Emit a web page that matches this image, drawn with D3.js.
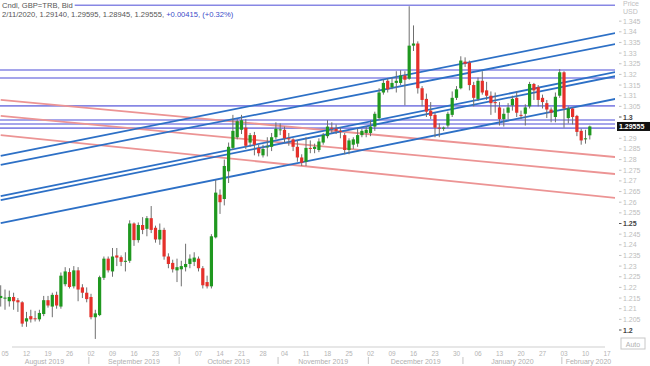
<!DOCTYPE html>
<html>
<head>
<meta charset="utf-8">
<script src="https://cdn.jsdelivr.net/npm/d3@7"></script>
<style>
  body { margin: 0; background: #fff; }
  svg { display: block; font-family: "Liberation Sans", Arial, sans-serif; }
</style>
</head>
<body>
<div id="chart"></div>
<script>
// daily bars, GBP=TRB bid
var dates = [
  "2019-08-01","2019-08-02",
  "2019-08-05","2019-08-06","2019-08-07","2019-08-08","2019-08-09",
  "2019-08-12","2019-08-13","2019-08-14","2019-08-15","2019-08-16",
  "2019-08-19","2019-08-20","2019-08-21","2019-08-22","2019-08-23",
  "2019-08-26","2019-08-27","2019-08-28","2019-08-29","2019-08-30",
  "2019-09-02","2019-09-03","2019-09-04","2019-09-05","2019-09-06",
  "2019-09-09","2019-09-10","2019-09-11","2019-09-12","2019-09-13",
  "2019-09-16","2019-09-17","2019-09-18","2019-09-19","2019-09-20",
  "2019-09-23","2019-09-24","2019-09-25","2019-09-26","2019-09-27",
  "2019-09-30","2019-10-01","2019-10-02","2019-10-03","2019-10-04",
  "2019-10-07","2019-10-08","2019-10-09","2019-10-10","2019-10-11",
  "2019-10-14","2019-10-15","2019-10-16","2019-10-17","2019-10-18",
  "2019-10-21","2019-10-22","2019-10-23","2019-10-24","2019-10-25",
  "2019-10-28","2019-10-29","2019-10-30","2019-10-31","2019-11-01",
  "2019-11-04","2019-11-05","2019-11-06","2019-11-07","2019-11-08",
  "2019-11-11","2019-11-12","2019-11-13","2019-11-14","2019-11-15",
  "2019-11-18","2019-11-19","2019-11-20","2019-11-21","2019-11-22",
  "2019-11-25","2019-11-26","2019-11-27","2019-11-28","2019-11-29",
  "2019-12-02","2019-12-03","2019-12-04","2019-12-05","2019-12-06",
  "2019-12-09","2019-12-10","2019-12-11","2019-12-12","2019-12-13",
  "2019-12-16","2019-12-17","2019-12-18","2019-12-19","2019-12-20",
  "2019-12-23","2019-12-24","2019-12-25","2019-12-26","2019-12-27",
  "2019-12-30","2019-12-31","2020-01-01","2020-01-02","2020-01-03",
  "2020-01-06","2020-01-07","2020-01-08","2020-01-09","2020-01-10",
  "2020-01-13","2020-01-14","2020-01-15","2020-01-16","2020-01-17",
  "2020-01-20","2020-01-21","2020-01-22","2020-01-23","2020-01-24",
  "2020-01-27","2020-01-28","2020-01-29","2020-01-30","2020-01-31",
  "2020-02-03","2020-02-04","2020-02-05","2020-02-06","2020-02-07",
  "2020-02-10","2020-02-11"
];
var open = [
  1.2130,1.2150,
  1.2150,1.2135,1.2155,1.2140,1.2130,
  1.2040,1.2065,1.2055,1.2050,1.2075,
  1.2140,1.2110,1.2165,1.2110,1.2215,
  1.2272,1.2205,1.2280,1.2200,1.2175,
  1.2155,1.2060,1.2070,1.2245,1.2335,
  1.2275,1.2350,1.2342,1.2320,1.2325,
  1.2500,1.2422,1.2493,1.2475,1.2525,
  1.2480,1.2425,1.2470,1.2345,1.2315,
  1.2280,1.2285,1.2295,1.2310,1.2320,
  1.2335,1.2290,1.2225,1.2205,1.2435,
  1.2635,1.2615,1.2745,1.2855,1.2905,
  1.2940,1.2950,1.2880,1.2915,1.2855,
  1.2820,1.2860,1.2860,1.2905,1.2940,
  1.2940,1.2900,1.2895,1.2860,1.2810,
  1.2790,1.2855,1.2850,1.2845,1.2880,
  1.2910,1.2950,1.2945,1.2935,1.2915,
  1.2845,1.2870,1.2875,1.2915,1.2925,
  1.2925,1.2955,1.2995,1.3115,1.3170,
  1.3140,1.3160,1.3160,1.3195,1.3180,
  1.3335,1.3345,1.3135,1.3085,1.3030,
  1.3010,1.2950,1.2945,1.2960,1.3010,
  1.3090,1.3135,1.3260,1.3255,1.3150,
  1.3085,1.3170,1.3125,1.3100,1.3070,
  1.3045,1.2990,1.3020,1.3055,1.3090,
  1.3010,1.3015,1.3050,1.3155,1.3140,
  1.3090,1.3065,1.3035,1.3000,1.3100,
  1.3210,1.2995,1.3040,1.3005,1.2935,
  1.2895,1.29140
];
var high = [
  1.2190,1.2210,
  1.2190,1.2185,1.2175,1.2150,1.2135,
  1.2085,1.2095,1.2090,1.2095,1.2160,
  1.2160,1.2175,1.2180,1.2270,1.2295,
  1.2290,1.2300,1.2295,1.2215,1.2200,
  1.2170,1.2095,1.2255,1.2345,1.2345,
  1.2385,1.2385,1.2350,1.2365,1.2515,
  1.2505,1.2505,1.2530,1.2535,1.2582,
  1.2490,1.2500,1.2480,1.2360,1.2330,
  1.2335,1.2325,1.2405,1.2355,1.2365,
  1.2345,1.2300,1.2255,1.2450,1.2705,
  1.2660,1.2800,1.2880,1.3010,1.2990,
  1.3010,1.2990,1.2925,1.2930,1.2870,
  1.2870,1.2905,1.2925,1.2975,1.2970,
  1.2955,1.2925,1.2900,1.2890,1.2825,
  1.2905,1.2890,1.2875,1.2900,1.2925,
  1.2985,1.2975,1.2965,1.2950,1.2925,
  1.2900,1.2905,1.2945,1.2945,1.2955,
  1.2985,1.3025,1.3135,1.3175,1.3180,
  1.3185,1.3215,1.3220,1.3215,1.3520,
  1.3430,1.3355,1.3145,1.3110,1.3070,
  1.3020,1.2970,1.2955,1.3025,1.3120,
  1.3145,1.3285,1.3280,1.3265,1.3165,
  1.3185,1.3215,1.3165,1.3120,1.3115,
  1.3070,1.3040,1.3065,1.3100,1.3120,
  1.3030,1.3060,1.3165,1.3160,1.3150,
  1.3105,1.3080,1.3045,1.3115,1.3225,
  1.3215,1.3050,1.3045,1.3010,1.2945,
  1.2940,1.29595
];
var low = [
  1.2110,1.2110,
  1.2095,1.2110,1.2095,1.2085,1.2015,
  1.2015,1.2035,1.2040,1.2040,1.2065,
  1.2105,1.2060,1.2100,1.2100,1.2205,
  1.2195,1.2195,1.2135,1.2150,1.2130,
  1.2050,1.1958,1.2065,1.2235,1.2270,
  1.2250,1.2300,1.2300,1.2275,1.2315,
  1.2395,1.2410,1.2450,1.2440,1.2455,
  1.2410,1.2400,1.2330,1.2290,1.2270,
  1.2225,1.2205,1.2275,1.2290,1.2300,
  1.2275,1.2195,1.2195,1.2195,1.2430,
  1.2545,1.2585,1.2690,1.2845,1.2895,
  1.2920,1.2850,1.2860,1.2820,1.2815,
  1.2810,1.2815,1.2840,1.2895,1.2915,
  1.2880,1.2865,1.2840,1.2790,1.2770,
  1.2770,1.2830,1.2830,1.2835,1.2870,
  1.2900,1.2925,1.2920,1.2900,1.2825,
  1.2825,1.2850,1.2860,1.2905,1.2905,
  1.2910,1.2935,1.2985,1.3105,1.3115,
  1.3130,1.3115,1.3150,1.3055,1.3175,
  1.3310,1.3110,1.3050,1.3000,1.2990,
  1.2905,1.2905,1.2935,1.2950,1.3000,
  1.3080,1.3130,1.3235,1.3125,1.3050,
  1.3075,1.3105,1.3080,1.3010,1.3020,
  1.2960,1.2955,1.2990,1.3030,1.3000,
  1.2990,1.2960,1.3040,1.3080,1.3050,
  1.3040,1.2995,1.2975,1.2975,1.3090,
  1.2950,1.2970,1.2965,1.2910,1.2870,
  1.2875,1.28945
];
var close = [
  1.2150,1.2160,
  1.2152,1.2155,1.2135,1.2130,1.2030,
  1.2055,1.2050,1.2052,1.2080,1.2140,
  1.2115,1.2165,1.2115,1.2255,1.2275,
  1.2202,1.2280,1.2190,1.2175,1.2145,
  1.2060,1.2078,1.2248,1.2335,1.2280,
  1.2345,1.2340,1.2320,1.2325,1.2500,
  1.2422,1.2493,1.2470,1.2525,1.2470,
  1.2425,1.2470,1.2345,1.2310,1.2285,
  1.2295,1.2300,1.2310,1.2335,1.2340,
  1.2290,1.2210,1.2205,1.2440,1.2645,
  1.2600,1.2770,1.2860,1.2935,1.2980,
  1.2985,1.2865,1.2915,1.2870,1.2830,
  1.2850,1.2862,1.2905,1.2945,1.2942,
  1.2900,1.2895,1.2860,1.2810,1.2785,
  1.2855,1.2850,1.2860,1.2885,1.2915,
  1.2955,1.2945,1.2935,1.2930,1.2845,
  1.2890,1.2895,1.2915,1.2935,1.2940,
  1.2955,1.3015,1.3115,1.3160,1.3130,
  1.3160,1.3170,1.3195,1.3175,1.3335,
  1.3345,1.3135,1.3080,1.3025,1.3005,
  1.2950,1.2945,1.2950,1.3015,1.3090,
  1.3130,1.3265,1.3250,1.3150,1.3090,
  1.3170,1.3115,1.3100,1.3065,1.3065,
  1.2990,1.3015,1.3045,1.3085,1.3020,
  1.3005,1.3045,1.3155,1.3125,1.3080,
  1.3070,1.3035,1.3020,1.3095,1.3210,
  1.3040,1.3040,1.3000,1.2930,1.2890,
  1.2900,1.29555
];

// drawing tools on the chart (price at left end / right end)
var levelLines = [1.3525, 1.3221, 1.3183, 1.3052, 1.2986, 1.2967, 1.2948];
var upTrends = [[1.2817, 1.3394], [1.2775, 1.3343], [1.2629, 1.3211], [1.2610, 1.3192], [1.2502, 1.3085]];
var downTrends = [[1.3080, 1.2812], [1.3005, 1.2732], [1.2915, 1.2620]];
var trendFrom = "2019-08-02", trendTo = "2020-02-19";

var priceTicks = ["1.2","1.205","1.21","1.215","1.22","1.225","1.23","1.235","1.24","1.245",
  "1.25","1.255","1.26","1.265","1.27","1.275","1.28","1.285","1.29",
  "1.3","1.305","1.31","1.315","1.32","1.325","1.33","1.335","1.34","1.345"];
var boldTicks = ["1.2","1.25","1.3"];
var monthNames = ["August 2019","September 2019","October 2019","November 2019",
  "December 2019","January 2020","February 2020"];
var axisStart = "2019-08-01", axisEnd = "2020-02-19";

var width = 650, height = 366;
var plotRight = 615, plotBottom = 346;

var parse = d3.timeParse("%Y-%m-%d");
var fmt = d3.timeFormat("%Y-%m-%d");

// weekday slots along the time axis
var axisDays = d3.timeDay.range(parse(axisStart), d3.timeDay.offset(parse(axisEnd), 1))
  .filter(function(d) { return d.getDay() !== 0 && d.getDay() !== 6; });
var axisKeys = axisDays.map(fmt);

var x = d3.scaleBand()
  .domain(axisKeys)
  .range([-5.75, 617.75])
  .paddingInner(0.25)
  .paddingOuter(0.125);
var cx = function(k) { return x(k) + x.bandwidth() / 2; };

var y = d3.scaleLinear().domain([1.2, 1.35]).range([330, 10.5]);

var svg = d3.select("#chart").append("svg")
  .attr("width", width)
  .attr("height", height);

svg.append("defs").append("clipPath").attr("id", "plot")
  .append("rect").attr("x", 0).attr("y", 0).attr("width", plotRight).attr("height", plotBottom);

var plot = svg.append("g").attr("clip-path", "url(#plot)");

// horizontal levels
plot.selectAll(".level").data(levelLines).enter().append("line")
  .attr("class", "level")
  .attr("x1", 0).attr("x2", plotRight)
  .attr("y1", function(d) { return y(d); })
  .attr("y2", function(d) { return y(d); })
  .attr("stroke", "#8787e4")
  .attr("stroke-width", 1.6);

// falling channel
plot.selectAll(".down").data(downTrends).enter().append("line")
  .attr("class", "down")
  .attr("x1", cx(trendFrom)).attr("x2", cx(trendTo))
  .attr("y1", function(d) { return y(d[0]); })
  .attr("y2", function(d) { return y(d[1]); })
  .attr("stroke", "#ec9494")
  .attr("stroke-width", 1.8);

// rising channel
plot.selectAll(".up").data(upTrends).enter().append("line")
  .attr("class", "up")
  .attr("x1", cx(trendFrom)).attr("x2", cx(trendTo))
  .attr("y1", function(d) { return y(d[0]); })
  .attr("y2", function(d) { return y(d[1]); })
  .attr("stroke", "#2d70c6")
  .attr("stroke-width", 1.8);

// candles
var bars = dates.map(function(d, i) {
  return { key: d, o: open[i], h: high[i], l: low[i], c: close[i] };
});

var candle = plot.selectAll(".candle").data(bars).enter().append("g").attr("class", "candle");

candle.append("line")
  .attr("x1", function(d) { return cx(d.key); })
  .attr("x2", function(d) { return cx(d.key); })
  .attr("y1", function(d) { return y(d.h); })
  .attr("y2", function(d) { return y(d.l); })
  .attr("stroke", "#6f6f6f")
  .attr("stroke-width", 1);

candle.append("rect")
  .attr("x", function(d) { return x(d.key); })
  .attr("width", x.bandwidth())
  .attr("y", function(d) { return y(Math.max(d.o, d.c)); })
  .attr("height", function(d) { return Math.max(1, Math.abs(y(d.o) - y(d.c))); })
  .attr("fill", function(d) { return d.c >= d.o ? "#1f981f" : "#e5302a"; });

// header
var head1 = svg.append("text")
  .attr("x", 2).attr("y", 8)
  .attr("font-size", 7.6).attr("fill", "#555")
  .text("Cndl, GBP=TRB, Bid");
var bb = head1.node().getBBox();
svg.insert("rect", "text").attr("x", 0).attr("y", 0)
  .attr("width", bb.width + 4).attr("height", 9).attr("fill", "#fff");

var last = bars[bars.length - 1];
var change = last.c - last.o;
var head2 = svg.append("text")
  .attr("x", 2).attr("y", 17)
  .attr("font-size", 7.6).attr("fill", "#555");
head2.append("tspan").text(d3.timeFormat("%-m/%-d/%Y")(parse(last.key)) + ", " +
  [last.o, last.h, last.l, last.c].map(d3.format(".5f")).join(", ") + ", ");
head2.append("tspan").attr("fill", "#3a4bc8")
  .text(d3.format("+.5f")(change) + ", (" + d3.format("+.2%")(change / last.o) + ")");

// price axis
var axisG = svg.append("g");
priceTicks.forEach(function(t) {
  var v = +t, isBold = boldTicks.indexOf(t) >= 0;
  axisG.append("line")
    .attr("x1", 619).attr("x2", 621.5)
    .attr("y1", y(v)).attr("y2", y(v))
    .attr("stroke", isBold ? "#555" : "#c4c4c4");
  axisG.append("text")
    .attr("x", 623).attr("y", y(v) + 2.5)
    .attr("font-size", 7)
    .attr("font-weight", isBold ? "bold" : "normal")
    .attr("fill", isBold ? "#444" : "#bdbdbd")
    .text(t);
});
axisG.append("text").attr("x", 623).attr("y", 6).attr("font-size", 7).attr("fill", "#c0c0c0").text("Price");
axisG.append("text").attr("x", 623).attr("y", 14).attr("font-size", 7).attr("fill", "#c0c0c0").text("USD");

// last price marker
axisG.append("rect")
  .attr("x", 617).attr("y", y(last.c) - 4.5)
  .attr("width", 33).attr("height", 9)
  .attr("fill", "#111");
axisG.append("text")
  .attr("x", 619).attr("y", y(last.c) + 2.5)
  .attr("font-size", 7).attr("font-weight", "bold").attr("fill", "#fff")
  .text(d3.format(".5f")(last.c));

// auto button
axisG.append("rect").attr("x", 621).attr("y", 338).attr("width", 24).attr("height", 11)
  .attr("fill", "#fff").attr("stroke", "#c8c8c8");
axisG.append("text").attr("x", 633).attr("y", 346.5).attr("text-anchor", "middle")
  .attr("font-size", 7).attr("fill", "#b0b0b0").text("Auto");

// time axis
var timeG = svg.append("g");
timeG.append("line").attr("x1", 12).attr("x2", 605)
  .attr("y1", 347).attr("y2", 347).attr("stroke", "#cfcfcf");

axisDays.filter(function(d) { return d.getDay() === 1; }).forEach(function(d) {
  timeG.append("text")
    .attr("x", cx(fmt(d))).attr("y", 355.5)
    .attr("text-anchor", "middle")
    .attr("font-size", 6.5).attr("fill", "#b4b4b4")
    .text(d3.timeFormat("%d")(d));
});

var months = d3.groups(axisDays, function(d) { return d3.timeFormat("%Y-%m")(d); });
months.forEach(function(m, i) {
  var first = fmt(m[1][0]), lastDay = fmt(m[1][m[1].length - 1]);
  var x0 = Math.max(0, x(first) - x.step() * x.paddingInner() / 2);
  var x1 = Math.min(plotRight, x(lastDay) + x.bandwidth() + x.step() * x.paddingInner() / 2);
  if (i > 0) {
    timeG.append("line").attr("x1", x0).attr("x2", x0)
      .attr("y1", 357).attr("y2", 364).attr("stroke", "#c4c4c4");
  }
  timeG.append("text")
    .attr("x", (x0 + x1) / 2).attr("y", 364)
    .attr("text-anchor", "middle")
    .attr("font-size", 7).attr("fill", "#b0b0b0")
    .text(monthNames[i]);
});
</script>
</body>
</html>
